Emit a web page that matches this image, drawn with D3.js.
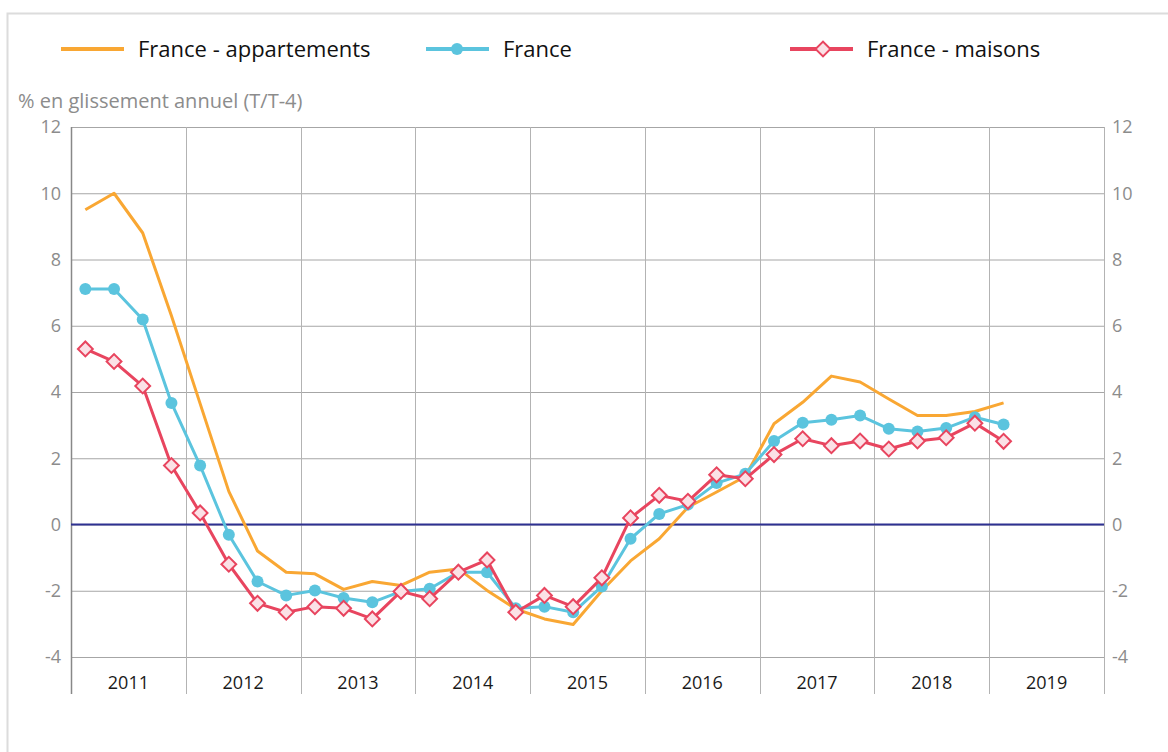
<!DOCTYPE html>
<meta charset="utf-8">
<style>
  body { margin: 0; background: #fff; font-family: "Open Sans", sans-serif; }
</style>
<body>
<script src="https://d3js.org/d3.v7.min.js"></script>
<script>
var width = 1168,
    height = 752;

// chart values, quarterly from 2011 T1 to 2019 T1
var years = ["2011", "2012", "2013", "2014", "2015", "2016", "2017", "2018", "2019"];
var yTicks = [-4, -2, 0, 2, 4, 6, 8, 10, 12];

var appartements = [9.5, 10.0, 8.8, 6.3, 3.65, 1.0, -0.8, -1.44, -1.49, -1.96, -1.72, -1.84,
    -1.44, -1.34, -1.99, -2.55, -2.85, -3.02, -2.0, -1.1, -0.43, 0.52, 0.98, 1.45,
    3.04, 3.69, 4.48, 4.3, 3.79, 3.29, 3.29, 3.41, 3.67];
var france = [7.11, 7.11, 6.19, 3.67, 1.78, -0.31, -1.72, -2.14, -1.99, -2.22, -2.35, -2.02,
    -1.94, -1.44, -1.44, -2.53, -2.48, -2.65, -1.87, -0.43, 0.32, 0.6, 1.25, 1.53,
    2.52, 3.07, 3.16, 3.29, 2.89, 2.81, 2.91, 3.24, 3.02];
var maisons = [5.3, 4.92, 4.18, 1.78, 0.35, -1.2, -2.38, -2.65, -2.48, -2.53, -2.85, -2.02,
    -2.24, -1.44, -1.07, -2.65, -2.14, -2.48, -1.61, 0.2, 0.88, 0.7, 1.5, 1.38,
    2.11, 2.59, 2.38, 2.52, 2.28, 2.52, 2.62, 3.06, 2.51];

var orange = "#f9a733", blue = "#5bc4de", red = "#e8455f";

var svg = d3.select("body").append("svg")
    .attr("width", width)
    .attr("height", height);

// frame
svg.append("path")
    .attr("d", "M7.5," + height + "V13.5H" + width)
    .attr("fill", "none")
    .attr("stroke", "#dcdcdc")
    .attr("stroke-width", 2);

var x = d3.scaleLinear().domain([0, years.length * 4]).range([71, 1104]);
var y = d3.scaleLinear().domain([-4, 12]).range([657, 127]);

// horizontal grid
svg.append("g").selectAll("line")
    .data(yTicks)
    .join("line")
    .attr("x1", x(0)).attr("x2", x(36))
    .attr("y1", d => y(d) + 0.5).attr("y2", d => y(d) + 0.5)
    .attr("stroke", "#a6a6a6");

// vertical grid (year boundaries)
svg.append("g").selectAll("line")
    .data(d3.range(years.length + 1))
    .join("line")
    .attr("x1", d => Math.round(x(d * 4)) + 0.5).attr("x2", d => Math.round(x(d * 4)) + 0.5)
    .attr("y1", y(12)).attr("y2", 694)
    .attr("stroke", d => d == 0 ? "#888" : "#b3b3b3")
    .attr("stroke-width", d => d == 0 ? 1.5 : 1);

// zero line
svg.append("line")
    .attr("x1", x(0)).attr("x2", x(36))
    .attr("y1", y(0)).attr("y2", y(0))
    .attr("stroke", "#2e3192")
    .attr("stroke-width", 2);

// y tick labels both sides
var tickG = svg.append("g")
    .attr("font-size", 18)
    .attr("fill", "#8c8c8c");
tickG.selectAll("text.l")
    .data(yTicks)
    .join("text")
    .attr("class", "l")
    .attr("x", 61).attr("y", d => y(d))
    .attr("dy", "0.35em")
    .attr("text-anchor", "end")
    .text(d => d);
tickG.selectAll("text.r")
    .data(yTicks)
    .join("text")
    .attr("class", "r")
    .attr("x", 1112).attr("y", d => y(d))
    .attr("dy", "0.35em")
    .text(d => d);

// year labels
svg.append("g").selectAll("text")
    .data(years)
    .join("text")
    .attr("x", (d, i) => x(i * 4 + 2))
    .attr("y", 683)
    .attr("dy", "0.35em")
    .attr("text-anchor", "middle")
    .attr("font-size", 18)
    .attr("fill", "#1a1a1a")
    .text(d => d);

svg.append("text")
    .attr("x", 18).attr("y", 101)
    .attr("dy", "0.35em")
    .attr("font-size", 20)
    .attr("fill", "#8c8c8c")
    .text("% en glissement annuel (T/T-4)");

var line = d3.line()
    .x((d, i) => x(i + 0.5))
    .y(d => y(d));

function drawLine(data, color) {
    svg.append("path")
        .datum(data)
        .attr("d", line)
        .attr("fill", "none")
        .attr("stroke", color)
        .attr("stroke-width", 3)
        .attr("stroke-linejoin", "round");
}

drawLine(appartements, orange);
drawLine(france, blue);
svg.append("g").selectAll("circle")
    .data(france)
    .join("circle")
    .attr("cx", (d, i) => x(i + 0.5))
    .attr("cy", d => y(d))
    .attr("r", 6)
    .attr("fill", blue);

drawLine(maisons, red);
var diamond = d3.symbol().type(d3.symbolSquare).size(110);
svg.append("g").selectAll("path")
    .data(maisons)
    .join("path")
    .attr("d", diamond)
    .attr("transform", (d, i) => "translate(" + x(i + 0.5) + "," + y(d) + ")rotate(45)")
    .attr("fill", "#fbe1e6")
    .attr("stroke", red)
    .attr("stroke-width", 2);

// legend
var legend = [
    {name: "France - appartements", color: orange, x: 61, mark: null},
    {name: "France", color: blue, x: 426, mark: "circle"},
    {name: "France - maisons", color: red, x: 790, mark: "diamond"}
];
var lg = svg.append("g").selectAll("g")
    .data(legend)
    .join("g")
    .attr("transform", d => "translate(" + d.x + ",49)");
lg.append("line")
    .attr("x1", 0).attr("x2", 63)
    .attr("stroke", d => d.color)
    .attr("stroke-width", 4);
lg.filter(d => d.mark == "circle").append("circle")
    .attr("cx", 31).attr("r", 6)
    .attr("fill", d => d.color);
lg.filter(d => d.mark == "diamond").append("path")
    .attr("d", diamond)
    .attr("transform", "translate(33,0)rotate(45)")
    .attr("fill", "#fbe1e6")
    .attr("stroke", d => d.color)
    .attr("stroke-width", 2);
lg.append("text")
    .attr("x", 77)
    .attr("dy", "0.35em")
    .attr("font-size", 22)
    .attr("fill", "#111")
    .text(d => d.name);
</script>
